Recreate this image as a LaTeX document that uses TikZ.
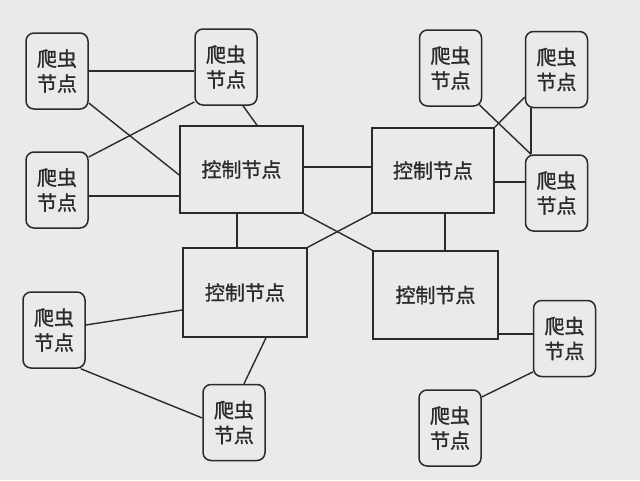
\documentclass[tikz,border=0pt]{standalone}
\usepackage{fontspec}
\newfontfamily\cjk[FakeBold=1.2]{Noto Sans CJK SC}
\usetikzlibrary{calc}
\definecolor{bg}{HTML}{EAEAEA}
\definecolor{ink}{HTML}{2A2A2A}
\tikzset{
  crawler/.style={draw=ink, line width=1.5pt, rounded corners=8pt, fill=bg,
    minimum width=62pt, minimum height=76pt, inner sep=0pt,
    align=center, font=\cjk\fontsize{20pt}{25pt}\selectfont, text=ink},
  ctrl/.style={draw=ink, line width=1.5pt, fill=bg,
    minimum width=123pt, minimum height=87pt, inner sep=0pt,
    font=\cjk\fontsize{20pt}{25pt}\selectfont, text=ink},
  link/.style={draw=ink, line width=1.4pt}
}
\begin{document}
\begin{tikzpicture}[x=1pt,y=-1pt]
\fill[bg] (0,0) rectangle (640,480);
\useasboundingbox (0,0) rectangle (640,480);
% nodes
\node[crawler] (c1) at (57,71) {爬虫\\节点};
\node[crawler] (c2) at (226,67) {爬虫\\节点};
\node[crawler] (c3) at (57,190) {爬虫\\节点};
\node[crawler] (c4) at (450.5,68) {爬虫\\节点};
\node[crawler] (c5) at (556.5,69.5) {爬虫\\节点};
\node[crawler] (c6) at (556.5,193) {爬虫\\节点};
\node[crawler] (c7) at (54,330) {爬虫\\节点};
\node[crawler] (c8) at (234,422.5) {爬虫\\节点};
\node[crawler] (c9) at (564.5,338.5) {爬虫\\节点};
\node[crawler] (c10) at (450,428) {爬虫\\节点};
\node[ctrl] (k1) at (241.5,169.5) {控制节点};
\node[ctrl, minimum width=122pt, minimum height=85pt] (k2) at (433,170.5) {控制节点};
\node[ctrl, minimum width=124pt, minimum height=89pt] (k3) at (245,292.5) {控制节点};
\node[ctrl, minimum width=125pt, minimum height=88pt] (k4) at (435.5,295) {控制节点};
% connectors
\path[link] (c1.east) -- (c1.east -| c2.west);
\path[link] ($(c1.east)+(0,32)$) -- ($(k1.west)+(0,5.5)$);
\path[link] ($(c3.east)+(0,-33)$) -- ($(c2.west)+(0,35)$);
\path[link] ($(c3.east)+(0,6)$) -- ($(k1.west)+(0,26.5)$);
\path[link] ($(c2.south)+(17,0)$) -- ($(k1.north)+(15.5,0)$);
\path[link] ($(k1.east)+(0,-2.5)$) -- ($(k2.west)+(0,-3.5)$);
\path[link] ($(k1.south)+(-4.5,0)$) -- ($(k3.north)+(-8,0)$);
\path[link] (k1.south east) -- (k4.north west);
\path[link] (k2.south west) -- (k3.north east);
\path[link] ($(k2.south)+(12,0)$) -- ($(k4.north)+(9.5,0)$);
\path[link] (k2.north east) -- ($(c5.west)+(0,27.5)$);
\path[link] ($(c4.south east)+(-3,-2)$) -- ($(c6.north)+(-25.5,0)$);
\path[link] ($(c5.south)+(-25.5,0)$) -- ($(c6.north)+(-25.5,0)$);
\path[link] ($(k2.east)+(0,11.5)$) -- ($(c6.west)+(0,-11)$);
\path[link] ($(k3.west)+(0,17.5)$) -- ($(c7.east)+(0,-5)$);
\path[link] ($(c7.south east)+(-5,0)$) -- ($(c8.west)+(0,-4.5)$);
\path[link] ($(k3.south)+(21,0)$) -- ($(c8.north)+(10,0)$);
\path[link] ($(k4.east)+(0,39)$) -- ($(c9.west)+(0,-4.5)$);
\path[link] ($(c9.west)+(0,33.5)$) -- ($(c10.east)+(0,-31)$);
\end{tikzpicture}
\end{document}
